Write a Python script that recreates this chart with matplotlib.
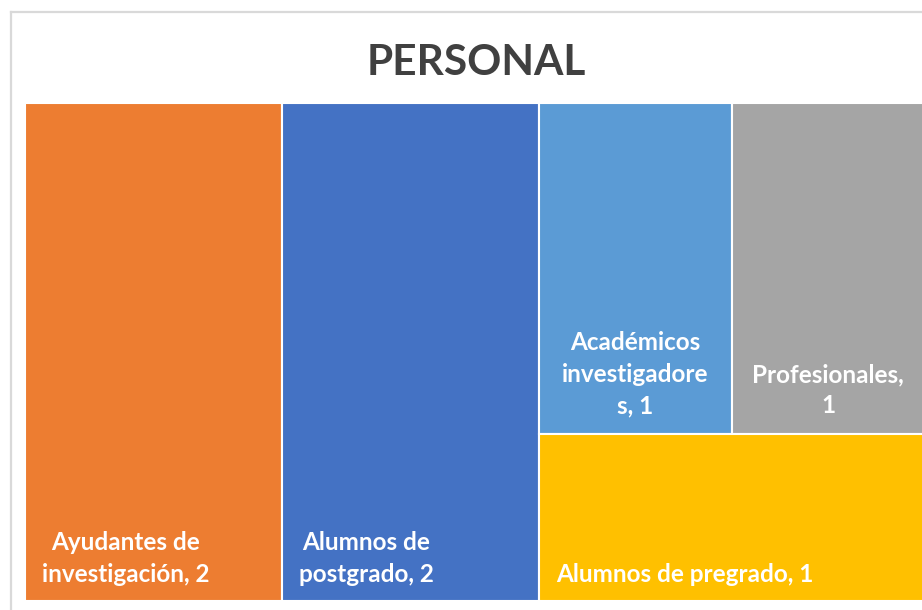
import matplotlib
matplotlib.use("Agg")
import matplotlib.pyplot as plt
from matplotlib.patches import Rectangle
from matplotlib.lines import Line2D

# ---- data ----
title = "PERSONAL"
categories = ["Ayudantes de\ninvestigación", "Alumnos de\npostgrado",
              "Académicos\ninvestigadore\ns", "Profesionales", "Alumnos de pregrado"]
values = [2, 2, 1, 1, 1]
value_sep = [" ", " ", " ", "\n", " "]   # how the value joins the wrapped name
colors = ["#ED7D31", "#4472C4", "#5B9BD5", "#A5A5A5", "#FFC000"]
label_align = ["left", "left", "center", "center", "left"]

FONT = ["Lato", "DejaVu Sans"]

# ---- figure ----
W_PX, H_PX = 922, 610
fig = plt.figure(figsize=(W_PX / 100, H_PX / 100), dpi=100)

# chart border (light gray, cut off at right/bottom like the reference)
bx, by = 10.5, 11.5
fig.add_artist(Line2D([bx / W_PX, bx / W_PX], [0, 1 - by / H_PX], transform=fig.transFigure,
                      color="#D9D9D9", lw=1.6))
fig.add_artist(Line2D([bx / W_PX, 1], [1 - by / H_PX, 1 - by / H_PX], transform=fig.transFigure,
                      color="#D9D9D9", lw=1.6))

fig.text(476 / W_PX, 1 - 75 / H_PX, title, ha="center", va="baseline",
         fontsize=30.5, fontweight="bold", color="#404040", family=FONT)

# plot area in pixel units
PL, PT, PW, PH = 24.5, 102.5, 900, 498
ax = fig.add_axes([PL / W_PX, 1 - (PT + PH) / H_PX, PW / W_PX, PH / H_PX])
ax.set_xlim(0, PW)
ax.set_ylim(PH, 0)
ax.axis("off")


def worst(row, side):
    s = sum(row)
    return max(max(side * side * r / (s * s), s * s / (side * side * r)) for r in row)


def squarify(sizes, x, y, w, h):
    rects = []
    sizes = list(sizes)
    while sizes:
        short = min(w, h)
        row = [sizes[0]]
        i = 1
        while i < len(sizes) and worst(row + [sizes[i]], short) <= worst(row, short):
            row.append(sizes[i])
            i += 1
        s = sum(row)
        if w >= h:
            cw = s / h
            yy = y
            for r in row:
                rh = r / cw
                rects.append((x, yy, cw, rh))
                yy += rh
            x += cw
            w -= cw
        else:
            rh = s / w
            xx = x
            for r in row:
                rw = r / rh
                rects.append((xx, y, rw, rh))
                xx += rw
            y += rh
            h -= rh
        sizes = sizes[i:]
    return rects


total = sum(values)
areas = [v / total * PW * PH for v in values]
rects = squarify(areas, 0, 0, PW, PH)

for (x, y, w, h), cat, val, sep, col, al in zip(rects, categories, values, value_sep, colors, label_align):
    ax.add_patch(Rectangle((x, y), w, h, facecolor=col, edgecolor="white", lw=1.5))
    label = f"{cat},{sep}{val}"
    if al == "left":
        tx, ty = x + 17, y + h - 15
    else:
        tx, ty = x + w / 2, y + h - 17
    ax.text(tx, ty, label, ha=al, va="bottom", multialignment="center",
            fontsize=17.5, fontweight="bold", color="white", family=FONT,
            linespacing=1.45)

fig.savefig("out.png", dpi=100)
